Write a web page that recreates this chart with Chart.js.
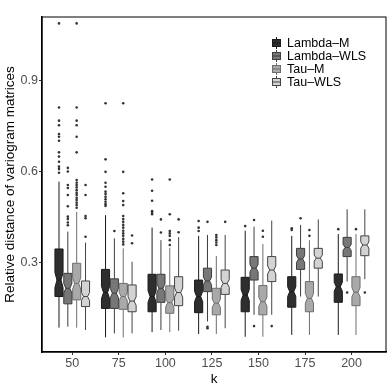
<!DOCTYPE html>
<html>
<head>
<meta charset="utf-8">
<title>Relative distance of variogram matrices</title>
<style>
  html, body { margin: 0; padding: 0; background: #fff; }
  #box-chart { display: block; }
</style>
</head>
<body>
<canvas id="box-chart" width="390" height="390"></canvas>
<script src="https://cdn.jsdelivr.net/npm/chart.js"></script>
<script>

    // k values on the x axis
    const kLabels = ["50", "75", "100", "125", "150", "175", "200"]
    const seriesNames = ["Lambda–M", "Lambda–WLS", "Tau–M", "Tau–WLS"]
    const yTicks = [0.3, 0.6, 0.9]

    // per k: lower whisker, q1, median, q3, upper whisker
    const lambdaM = [
        [0.088, 0.190, 0.244, 0.346, 0.567],
        [0.056, 0.151, 0.203, 0.279, 0.457],
        [0.073, 0.140, 0.190, 0.263, 0.416],
        [0.067, 0.137, 0.190, 0.244, 0.389],
        [0.058, 0.140, 0.195, 0.253, 0.406],
        [0.064, 0.155, 0.206, 0.255, 0.389],
        [0.064, 0.171, 0.222, 0.264, 0.395]
    ]
    const lambdaWLS = [
        [0.091, 0.166, 0.217, 0.266, 0.403],
        [0.069, 0.151, 0.201, 0.248, 0.381],
        [0.080, 0.171, 0.217, 0.263, 0.375],
        [0.108, 0.206, 0.241, 0.283, 0.392],
        [0.130, 0.244, 0.283, 0.321, 0.419],
        [0.190, 0.279, 0.313, 0.348, 0.425],
        [0.239, 0.321, 0.351, 0.384, 0.476]
    ]
    const tauM = [
        [0.088, 0.179, 0.233, 0.299, 0.468],
        [0.056, 0.148, 0.190, 0.233, 0.348],
        [0.073, 0.135, 0.170, 0.225, 0.350],
        [0.067, 0.130, 0.168, 0.217, 0.323],
        [0.058, 0.130, 0.173, 0.226, 0.362],
        [0.064, 0.140, 0.184, 0.239, 0.375],
        [0.064, 0.160, 0.204, 0.255, 0.395]
    ]
    const tauWLS = [
        [0.080, 0.157, 0.190, 0.241, 0.367],
        [0.069, 0.140, 0.175, 0.228, 0.304],
        [0.078, 0.160, 0.203, 0.255, 0.385],
        [0.086, 0.197, 0.233, 0.277, 0.392],
        [0.130, 0.239, 0.277, 0.321, 0.439],
        [0.190, 0.283, 0.316, 0.348, 0.443],
        [0.247, 0.324, 0.359, 0.389, 0.476]
    ]

    // outlying points per k
    const lambdaMOut = [
        [1.086, 0.810, 0.767, 0.752, 0.723, 0.714, 0.701, 0.663, 0.649, 0.632, 0.616, 0.608, 0.596],
        [0.824, 0.640, 0.599, 0.563, 0.550, 0.534, 0.526, 0.517, 0.509, 0.501, 0.493, 0.487],
        [0.574, 0.537, 0.504, 0.470, 0.465, 0.460],
        [0.438, 0.416, 0.405],
        [0.421],
        [0.414, 0.408],
        [0.411]
    ]
    const lambdaWLSOut = [
        [0.612, 0.600, 0.556, 0.546, 0.523, 0.486, 0.452, 0.444, 0.433, 0.424],
        [0.405],
        [0.443, 0.400],
        [0.435, 0.091, 0.086],
        [0.441, 0.093],
        [0.447],
        [0.203]
    ]
    const tauMOut = [
        [1.086, 0.810, 0.767, 0.752, 0.714, 0.663, 0.572, 0.563, 0.556, 0.548, 0.539, 0.530, 0.523, 0.514, 0.507, 0.498, 0.490, 0.481],
        [0.824, 0.599, 0.529, 0.503, 0.490, 0.454, 0.444, 0.435, 0.425, 0.416, 0.406, 0.397, 0.389, 0.379, 0.370, 0.361],
        [0.574, 0.460, 0.405, 0.397, 0.389, 0.375, 0.359],
        [0.392, 0.384, 0.375, 0.367, 0.359],
        [0.406, 0.386],
        [0.408, 0.389],
        [0.411]
    ]
    const tauWLSOut = [
        [0.556, 0.523, 0.454, 0.447, 0.386],
        [0.390, 0.365],
        [0.443, 0.401],
        [0.435],
        [0.093],
        [],
        [0.203]
    ]

    const nObs = 100   // used for the notch size only
    const fills = ["#2e2e2e", "#777777", "#a9a9a9", "#d3d3d3"]
    const lines = ["#1a1a1a", "#3d3d3d", "#6e6e6e", "#444444"]
    const FONT = "'Liberation Sans', Arial, sans-serif"

    const allStats = [lambdaM, lambdaWLS, tauM, tauWLS]
    const allOut = [lambdaMOut, lambdaWLSOut, tauMOut, tauWLSOut]

    // boxes, whiskers, notches and outliers drawn on the bar elements
    const boxPlugin = {
        id: "boxes",
        afterDatasetsDraw(chart) {
            const c = chart.ctx
            const ys = chart.scales.y
            chart.data.datasets.forEach((ds, i) => {
                const meta = chart.getDatasetMeta(i)
                meta.data.forEach((bar, j) => {
                    const s = ds.stats[j]
                    const x = bar.x
                    const w = bar.width
                    const L = x - w / 2, R = x + w / 2
                    const half = 1.58 * (s[3] - s[1]) / Math.sqrt(nObs)
                    const nLo = Math.max(s[1], s[2] - half)
                    const nHi = Math.min(s[3], s[2] + half)
                    c.save()
                    // whiskers
                    c.strokeStyle = lines[i]
                    c.lineWidth = 1
                    c.beginPath()
                    c.moveTo(x, ys.getPixelForValue(s[0]))
                    c.lineTo(x, ys.getPixelForValue(s[1]))
                    c.moveTo(x, ys.getPixelForValue(s[3]))
                    c.lineTo(x, ys.getPixelForValue(s[4]))
                    c.stroke()
                    // notched box
                    c.beginPath()
                    c.moveTo(L, ys.getPixelForValue(s[3]))
                    c.lineTo(R, ys.getPixelForValue(s[3]))
                    c.lineTo(R, ys.getPixelForValue(nHi))
                    c.lineTo(R - w / 4, ys.getPixelForValue(s[2]))
                    c.lineTo(R, ys.getPixelForValue(nLo))
                    c.lineTo(R, ys.getPixelForValue(s[1]))
                    c.lineTo(L, ys.getPixelForValue(s[1]))
                    c.lineTo(L, ys.getPixelForValue(nLo))
                    c.lineTo(L + w / 4, ys.getPixelForValue(s[2]))
                    c.lineTo(L, ys.getPixelForValue(nHi))
                    c.closePath()
                    c.fillStyle = fills[i]
                    c.fill()
                    c.stroke()
                    c.beginPath()
                    c.moveTo(L + w / 4, ys.getPixelForValue(s[2]))
                    c.lineTo(R - w / 4, ys.getPixelForValue(s[2]))
                    c.stroke()
                    // outliers
                    c.fillStyle = "#333"
                    ds.outliers[j].forEach(v => {
                        c.beginPath()
                        c.arc(x, ys.getPixelForValue(v), 1.3, 0, Math.PI * 2)
                        c.fill()
                    })
                    c.restore()
                })
            })
        },
        afterDraw(chart) {
            const c = chart.ctx
            const a = chart.chartArea
            c.save()
            // panel frame
            c.strokeStyle = "#000"
            c.lineWidth = 1
            c.strokeRect(a.left, a.top, a.right - a.left, a.bottom - a.top)
            // legend
            const lx = a.right - 114
            const ly = a.top + 26
            c.font = "12.5px " + FONT
            c.textBaseline = "middle"
            seriesNames.forEach((name, i) => {
                const y = ly + i * 13
                c.strokeStyle = lines[i]
                c.beginPath()
                c.moveTo(lx + 4.5, y - 6)
                c.lineTo(lx + 4.5, y + 6)
                c.stroke()
                c.fillStyle = fills[i]
                c.fillRect(lx, y - 4, 9, 8)
                c.strokeRect(lx + 0.5, y - 3.5, 8, 7)
                c.beginPath()
                c.moveTo(lx, y)
                c.lineTo(lx + 9, y)
                c.stroke()
                c.fillStyle = "#000"
                c.fillText(name, lx + 15, y + 0.5)
            })
            c.restore()
        }
    }

    function main(){
        const ctx = document.getElementById("box-chart")
        const datasets = allStats.map((stats, i) => ({
            label: seriesNames[i],
            data: stats.map((s, j) => ({x: j + 1, y: [s[1], s[3]]})),
            stats: stats,
            outliers: allOut[i],
            backgroundColor: "rgba(0,0,0,0)",
            borderWidth: 0,
            categoryPercentage: 0.76,
            barPercentage: 0.92
        }))

        new Chart(ctx, {
            type: "bar",
            data: { datasets: datasets },
            plugins: [boxPlugin],
            options: {
                responsive: false,
                animation: false,
                devicePixelRatio: 1,
                layout: { padding: { top: 17, right: 4, left: 0, bottom: 0 } },
                plugins: { legend: { display: false }, tooltip: { enabled: false } },
                scales: {
                    x: {
                        type: "linear",
                        offset: false,
                        min: 0.35,
                        max: 7.74,
                        afterBuildTicks(scale) {
                            scale.ticks = kLabels.map((_, i) => ({ value: i + 1 }))
                        },
                        afterFit(scale) { scale.height = 38 },
                        ticks: {
                            autoSkip: false,
                            maxRotation: 0,
                            padding: 1,
                            color: "#4d4d4d",
                            font: { family: FONT, size: 12.5 },
                            callback: v => kLabels[v - 1]
                        },
                        grid: { offset: false, drawOnChartArea: false, drawTicks: true, tickLength: 3, color: "#333" },
                        border: { display: true, color: "#000", width: 1.5 },
                        title: {
                            display: true,
                            text: "k",
                            color: "#000",
                            font: { family: FONT, size: 13.5 },
                            padding: { top: 0, bottom: 3 }
                        }
                    },
                    y: {
                        type: "linear",
                        min: 0.008,
                        max: 1.107,
                        afterBuildTicks(scale) {
                            scale.ticks = yTicks.map(v => ({ value: v }))
                        },
                        afterFit(scale) { scale.width = 42 },
                        ticks: {
                            padding: 1,
                            color: "#4d4d4d",
                            font: { family: FONT, size: 12.5 },
                            callback: v => v.toFixed(1)
                        },
                        grid: { drawOnChartArea: false, drawTicks: true, tickLength: 3, color: "#333" },
                        border: { display: true, color: "#000", width: 1.5 },
                        title: {
                            display: true,
                            text: "Relative distance of variogram matrices",
                            color: "#000",
                            font: { family: FONT, size: 13.5 },
                            padding: { top: 2, bottom: 0 }
                        }
                    }
                }
            }
        })
    }

    main()
</script>
</body>
</html>
